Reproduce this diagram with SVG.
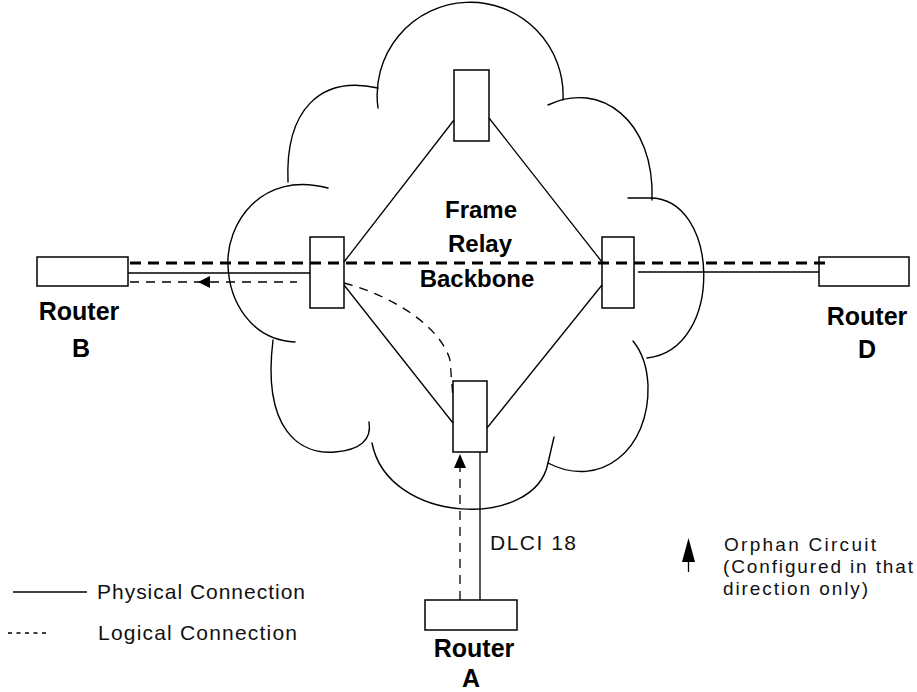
<svg xmlns="http://www.w3.org/2000/svg" width="917" height="692" viewBox="0 0 917 692">
<style>
  .cloud { fill: none; stroke: #000; stroke-width: 1.4; stroke-linecap: round; }
  .box { fill: #fff; stroke: #000; stroke-width: 1.5; }
  .phys { fill: none; stroke: #000; stroke-width: 1.3; }
  .logic { fill: none; stroke: #000; stroke-width: 1.3; stroke-dasharray: 9 7; }
  .heavy { fill: none; stroke: #000; stroke-width: 3.2; stroke-dasharray: 11 7; }
  .lbl { font-family: "Liberation Sans", Arial, sans-serif; font-weight: bold; font-size: 25px; fill: #000; text-anchor: middle; }
  .ctr { font-family: "Liberation Sans", Arial, sans-serif; font-weight: bold; font-size: 24px; fill: #000; text-anchor: middle; }
  .txt { font-family: "Liberation Sans", Arial, sans-serif; font-size: 21px; fill: #111; }
  .note { font-family: "Liberation Sans", Arial, sans-serif; font-size: 19px; fill: #111; }
  .arrow { fill: #000; stroke: none; }
</style>

<g id="cloud">
  <path class="cloud" d="M563,100 A93,93 0 1 0 378,108"/>
  <path class="cloud" d="M378,88 C320,75 285,110 288,182"/>
  <path class="cloud" d="M328,188 C260,170 226,225 228,265 C229,300 250,340 295,342"/>
  <path class="cloud" d="M273,340 C262,430 300,455 335,452 C360,450 372,440 369,422"/>
  <path class="cloud" d="M372,443 C388,525 535,530 548,463 Q551,450 554,437"/>
  <path class="cloud" d="M548,463 C600,490 650,450 648,385 C647,365 642,352 633,341"/>
  <path class="cloud" d="M647,358 C725,350 720,195 648,198 L628,198"/>
  <path class="cloud" d="M652,200 C655,120 600,80 548,105"/>
  <text class="ctr" x="481" y="218">Frame</text>
  <text class="ctr" x="480" y="252">Relay</text>
  <text class="ctr" x="477" y="287">Backbone</text>
</g>

<g id="switch-top"><rect class="box" x="454" y="70" width="35" height="71"/></g>
<g id="switch-left"><rect class="box" x="310" y="237" width="34" height="71"/></g>
<g id="switch-right"><rect class="box" x="602" y="237" width="32" height="71"/></g>
<g id="switch-bottom"><rect class="box" x="453" y="381" width="34" height="71"/></g>

<g id="router-b">
  <rect class="box" x="37" y="257" width="91" height="29"/>
  <text class="lbl" x="79" y="320">Router</text>
  <text class="lbl" x="81" y="357">B</text>
</g>
<g id="router-d">
  <rect class="box" x="819" y="257" width="90" height="29"/>
  <text class="lbl" x="867" y="325">Router</text>
  <text class="lbl" x="867" y="358">D</text>
</g>
<g id="router-a">
  <rect class="box" x="425" y="600" width="92" height="30"/>
  <text class="lbl" x="474" y="657">Router</text>
  <text class="lbl" x="471" y="687">A</text>
</g>

<g id="connectors">
  <line class="phys" x1="454" y1="120" x2="344" y2="262"/>
  <line class="phys" x1="489" y1="118" x2="602" y2="262"/>
  <line class="phys" x1="344" y1="285" x2="453" y2="423"/>
  <line class="phys" x1="602" y1="285" x2="487" y2="428"/>
  <line class="phys" x1="128" y1="273" x2="310" y2="273"/>
  <line class="phys" x1="638" y1="272" x2="819" y2="272"/>
  <line class="phys" x1="480" y1="452" x2="480" y2="600"/>
  <line class="heavy" x1="130" y1="263" x2="830" y2="263"/>
  <line class="logic" x1="130" y1="282" x2="297" y2="282"/>
  <polygon class="arrow" points="198,282 210,276 210,288"/>
  <path class="logic" d="M344,283 C390,295 440,325 450,360 L453,398"/>
  <line class="logic" x1="460" y1="600" x2="460" y2="466"/>
  <polygon class="arrow" points="460,454 454,468 466,468"/>
  <text class="txt" x="490" y="550" textLength="86" lengthAdjust="spacing">DLCI 18</text>
</g>

<g id="legend">
  <line class="phys" x1="13" y1="592" x2="87" y2="592"/>
  <text class="txt" x="97" y="599" textLength="208" lengthAdjust="spacing">Physical Connection</text>
  <line class="phys" x1="8" y1="633" x2="48" y2="633" stroke-dasharray="4 4.5"/>
  <text class="txt" x="98" y="640" textLength="199" lengthAdjust="spacing">Logical Connection</text>
  <polygon class="arrow" points="688.5,538 682,562 695,562"/>
  <line class="phys" x1="688.5" y1="560" x2="688.5" y2="572"/>
  <text class="note" x="724" y="551" textLength="152" lengthAdjust="spacing">Orphan Circuit</text>
  <text class="note" x="723" y="573" textLength="190" lengthAdjust="spacing">(Configured in that</text>
  <text class="note" x="723" y="595" textLength="145" lengthAdjust="spacing">direction only)</text>
</g>
</svg>
